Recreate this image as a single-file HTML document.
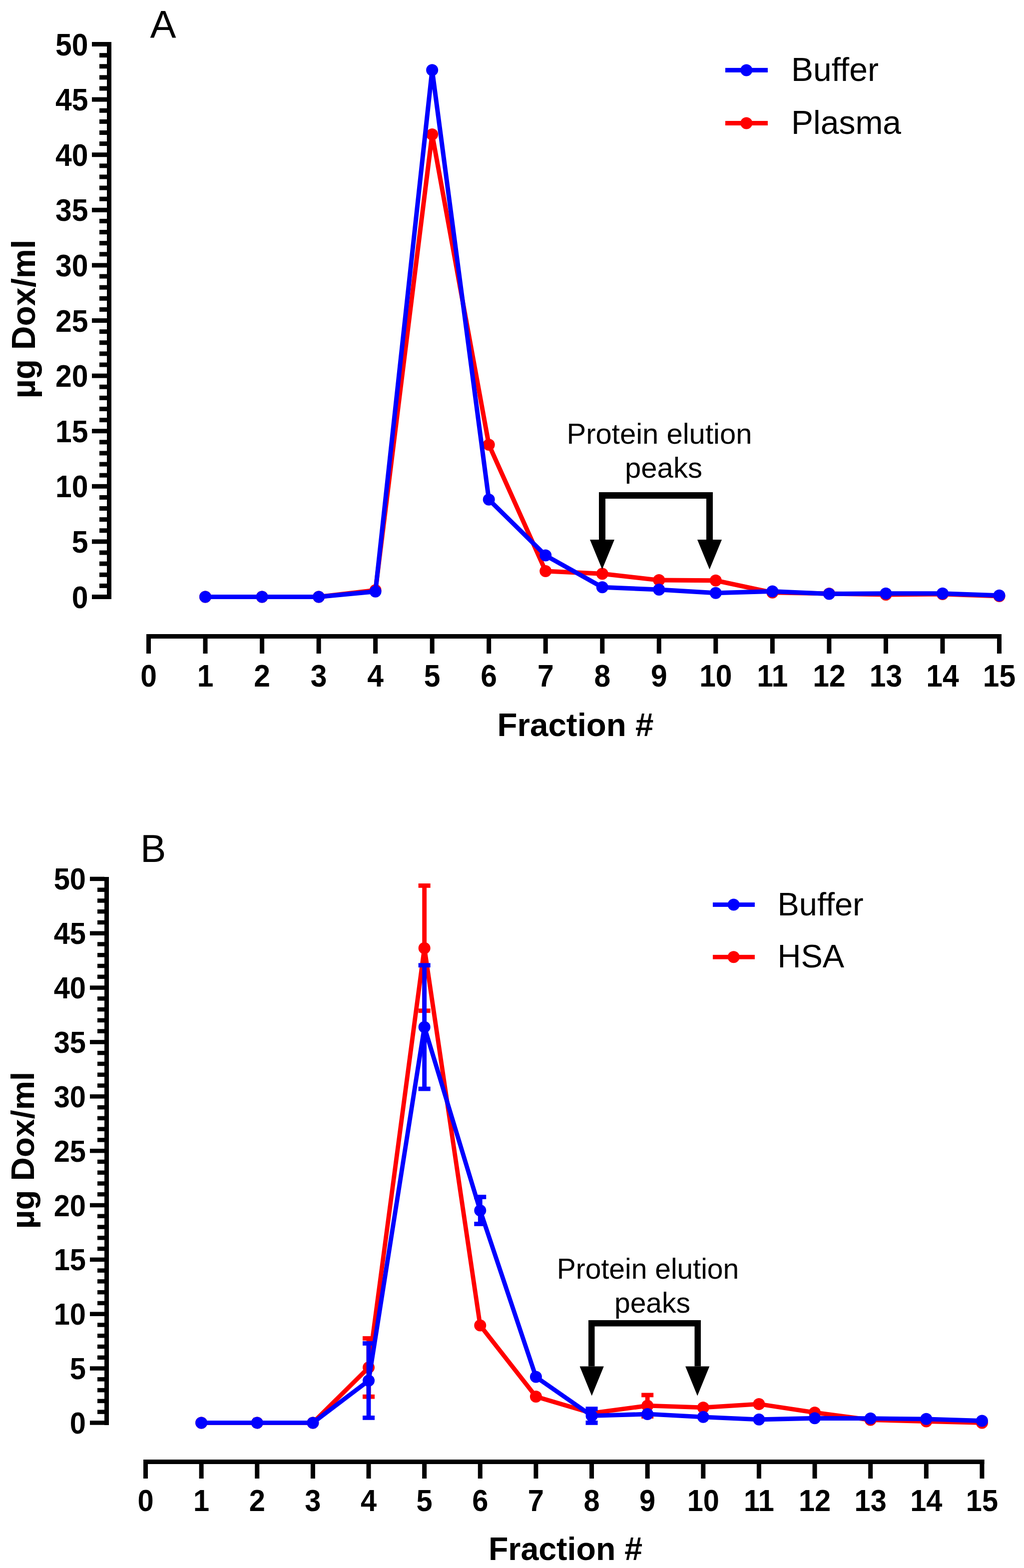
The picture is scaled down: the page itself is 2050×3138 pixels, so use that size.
<!DOCTYPE html>
<html><head><meta charset="utf-8"><title>Figure</title>
<style>
html,body{margin:0;padding:0;background:#fff;}
body{width:2050px;height:3138px;overflow:hidden;}
svg{display:block;}
.b{font-family:"Liberation Sans",Arial,sans-serif;font-weight:bold;fill:#000;}
.r{font-family:"Liberation Sans",Arial,sans-serif;font-weight:normal;fill:#000;}
</style></head><body>
<svg width="2050" height="3138" viewBox="0 0 2050 3138">
<rect x="0" y="0" width="2050" height="3138" fill="#fff"/>
<rect x="214" y="84" width="9" height="1115" fill="#000"/>
<rect x="184.00" y="1190.00" width="30.00" height="9" fill="#000"/>
<text transform="translate(176.50,1216.50) scale(0.98,1.06)" text-anchor="end" class="b" font-size="60">0</text>
<rect x="199.00" y="1167.88" width="15.00" height="9" fill="#000"/>
<rect x="199.00" y="1145.76" width="15.00" height="9" fill="#000"/>
<rect x="199.00" y="1123.64" width="15.00" height="9" fill="#000"/>
<rect x="199.00" y="1101.52" width="15.00" height="9" fill="#000"/>
<rect x="184.00" y="1079.40" width="30.00" height="9" fill="#000"/>
<text transform="translate(176.50,1105.90) scale(0.98,1.06)" text-anchor="end" class="b" font-size="60">5</text>
<rect x="199.00" y="1057.28" width="15.00" height="9" fill="#000"/>
<rect x="199.00" y="1035.16" width="15.00" height="9" fill="#000"/>
<rect x="199.00" y="1013.04" width="15.00" height="9" fill="#000"/>
<rect x="199.00" y="990.92" width="15.00" height="9" fill="#000"/>
<rect x="184.00" y="968.80" width="30.00" height="9" fill="#000"/>
<text transform="translate(176.50,995.30) scale(0.98,1.06)" text-anchor="end" class="b" font-size="60">10</text>
<rect x="199.00" y="946.68" width="15.00" height="9" fill="#000"/>
<rect x="199.00" y="924.56" width="15.00" height="9" fill="#000"/>
<rect x="199.00" y="902.44" width="15.00" height="9" fill="#000"/>
<rect x="199.00" y="880.32" width="15.00" height="9" fill="#000"/>
<rect x="184.00" y="858.20" width="30.00" height="9" fill="#000"/>
<text transform="translate(176.50,884.70) scale(0.98,1.06)" text-anchor="end" class="b" font-size="60">15</text>
<rect x="199.00" y="836.08" width="15.00" height="9" fill="#000"/>
<rect x="199.00" y="813.96" width="15.00" height="9" fill="#000"/>
<rect x="199.00" y="791.84" width="15.00" height="9" fill="#000"/>
<rect x="199.00" y="769.72" width="15.00" height="9" fill="#000"/>
<rect x="184.00" y="747.60" width="30.00" height="9" fill="#000"/>
<text transform="translate(176.50,774.10) scale(0.98,1.06)" text-anchor="end" class="b" font-size="60">20</text>
<rect x="199.00" y="725.48" width="15.00" height="9" fill="#000"/>
<rect x="199.00" y="703.36" width="15.00" height="9" fill="#000"/>
<rect x="199.00" y="681.24" width="15.00" height="9" fill="#000"/>
<rect x="199.00" y="659.12" width="15.00" height="9" fill="#000"/>
<rect x="184.00" y="637.00" width="30.00" height="9" fill="#000"/>
<text transform="translate(176.50,663.50) scale(0.98,1.06)" text-anchor="end" class="b" font-size="60">25</text>
<rect x="199.00" y="614.88" width="15.00" height="9" fill="#000"/>
<rect x="199.00" y="592.76" width="15.00" height="9" fill="#000"/>
<rect x="199.00" y="570.64" width="15.00" height="9" fill="#000"/>
<rect x="199.00" y="548.52" width="15.00" height="9" fill="#000"/>
<rect x="184.00" y="526.40" width="30.00" height="9" fill="#000"/>
<text transform="translate(176.50,552.90) scale(0.98,1.06)" text-anchor="end" class="b" font-size="60">30</text>
<rect x="199.00" y="504.28" width="15.00" height="9" fill="#000"/>
<rect x="199.00" y="482.16" width="15.00" height="9" fill="#000"/>
<rect x="199.00" y="460.04" width="15.00" height="9" fill="#000"/>
<rect x="199.00" y="437.92" width="15.00" height="9" fill="#000"/>
<rect x="184.00" y="415.80" width="30.00" height="9" fill="#000"/>
<text transform="translate(176.50,442.30) scale(0.98,1.06)" text-anchor="end" class="b" font-size="60">35</text>
<rect x="199.00" y="393.68" width="15.00" height="9" fill="#000"/>
<rect x="199.00" y="371.56" width="15.00" height="9" fill="#000"/>
<rect x="199.00" y="349.44" width="15.00" height="9" fill="#000"/>
<rect x="199.00" y="327.32" width="15.00" height="9" fill="#000"/>
<rect x="184.00" y="305.20" width="30.00" height="9" fill="#000"/>
<text transform="translate(176.50,331.70) scale(0.98,1.06)" text-anchor="end" class="b" font-size="60">40</text>
<rect x="199.00" y="283.08" width="15.00" height="9" fill="#000"/>
<rect x="199.00" y="260.96" width="15.00" height="9" fill="#000"/>
<rect x="199.00" y="238.84" width="15.00" height="9" fill="#000"/>
<rect x="199.00" y="216.72" width="15.00" height="9" fill="#000"/>
<rect x="184.00" y="194.60" width="30.00" height="9" fill="#000"/>
<text transform="translate(176.50,221.10) scale(0.98,1.06)" text-anchor="end" class="b" font-size="60">45</text>
<rect x="199.00" y="172.48" width="15.00" height="9" fill="#000"/>
<rect x="199.00" y="150.36" width="15.00" height="9" fill="#000"/>
<rect x="199.00" y="128.24" width="15.00" height="9" fill="#000"/>
<rect x="199.00" y="106.12" width="15.00" height="9" fill="#000"/>
<rect x="184.00" y="84.00" width="30.00" height="9" fill="#000"/>
<text transform="translate(176.50,110.50) scale(0.98,1.06)" text-anchor="end" class="b" font-size="60">50</text>
<rect x="293.00" y="1269" width="1712.00" height="9" fill="#000"/>
<rect x="293.00" y="1269" width="9" height="39" fill="#000"/>
<text transform="translate(297.50,1374.00) scale(0.98,1.06)" text-anchor="middle" class="b" font-size="60">0</text>
<rect x="406.53" y="1269" width="9" height="39" fill="#000"/>
<text transform="translate(411.03,1374.00) scale(0.98,1.06)" text-anchor="middle" class="b" font-size="60">1</text>
<rect x="520.07" y="1269" width="9" height="39" fill="#000"/>
<text transform="translate(524.57,1374.00) scale(0.98,1.06)" text-anchor="middle" class="b" font-size="60">2</text>
<rect x="633.60" y="1269" width="9" height="39" fill="#000"/>
<text transform="translate(638.10,1374.00) scale(0.98,1.06)" text-anchor="middle" class="b" font-size="60">3</text>
<rect x="747.13" y="1269" width="9" height="39" fill="#000"/>
<text transform="translate(751.63,1374.00) scale(0.98,1.06)" text-anchor="middle" class="b" font-size="60">4</text>
<rect x="860.66" y="1269" width="9" height="39" fill="#000"/>
<text transform="translate(865.16,1374.00) scale(0.98,1.06)" text-anchor="middle" class="b" font-size="60">5</text>
<rect x="974.20" y="1269" width="9" height="39" fill="#000"/>
<text transform="translate(978.70,1374.00) scale(0.98,1.06)" text-anchor="middle" class="b" font-size="60">6</text>
<rect x="1087.73" y="1269" width="9" height="39" fill="#000"/>
<text transform="translate(1092.23,1374.00) scale(0.98,1.06)" text-anchor="middle" class="b" font-size="60">7</text>
<rect x="1201.26" y="1269" width="9" height="39" fill="#000"/>
<text transform="translate(1205.76,1374.00) scale(0.98,1.06)" text-anchor="middle" class="b" font-size="60">8</text>
<rect x="1314.80" y="1269" width="9" height="39" fill="#000"/>
<text transform="translate(1319.30,1374.00) scale(0.98,1.06)" text-anchor="middle" class="b" font-size="60">9</text>
<rect x="1428.33" y="1269" width="9" height="39" fill="#000"/>
<text transform="translate(1432.83,1374.00) scale(0.98,1.06)" text-anchor="middle" class="b" font-size="60">10</text>
<rect x="1541.86" y="1269" width="9" height="39" fill="#000"/>
<text transform="translate(1546.36,1374.00) scale(0.98,1.06)" text-anchor="middle" class="b" font-size="60">11</text>
<rect x="1655.40" y="1269" width="9" height="39" fill="#000"/>
<text transform="translate(1659.90,1374.00) scale(0.98,1.06)" text-anchor="middle" class="b" font-size="60">12</text>
<rect x="1768.93" y="1269" width="9" height="39" fill="#000"/>
<text transform="translate(1773.43,1374.00) scale(0.98,1.06)" text-anchor="middle" class="b" font-size="60">13</text>
<rect x="1882.46" y="1269" width="9" height="39" fill="#000"/>
<text transform="translate(1886.96,1374.00) scale(0.98,1.06)" text-anchor="middle" class="b" font-size="60">14</text>
<rect x="1996.00" y="1269" width="9" height="39" fill="#000"/>
<text transform="translate(2000.50,1374.00) scale(0.98,1.06)" text-anchor="middle" class="b" font-size="60">15</text>
<text x="1152.00" y="1472.70" text-anchor="middle" class="b" font-size="65.5">Fraction #</text>
<text transform="translate(69.90,638.50) rotate(-90)" text-anchor="middle" class="b" font-size="66.2">µg Dox/ml</text>
<text x="300.5" y="75.9" class="r" font-size="78">A</text>
<path d="M411.03,1194.50 L524.57,1194.50 L638.10,1194.50 L751.63,1181.23 L865.16,269.00 L978.70,889.91 L1092.23,1142.96 L1205.76,1148.27 L1319.30,1161.10 L1432.83,1161.76 L1546.36,1185.87 L1659.90,1188.09 L1773.43,1190.08 L1886.96,1188.97 L2000.50,1192.95" fill="none" stroke="#ff0000" stroke-width="9" stroke-linejoin="round"/>
<circle cx="411.03" cy="1194.50" r="12" fill="#ff0000"/>
<circle cx="524.57" cy="1194.50" r="12" fill="#ff0000"/>
<circle cx="638.10" cy="1194.50" r="12" fill="#ff0000"/>
<circle cx="751.63" cy="1181.23" r="12" fill="#ff0000"/>
<circle cx="865.16" cy="269.00" r="12" fill="#ff0000"/>
<circle cx="978.70" cy="889.91" r="12" fill="#ff0000"/>
<circle cx="1092.23" cy="1142.96" r="12" fill="#ff0000"/>
<circle cx="1205.76" cy="1148.27" r="12" fill="#ff0000"/>
<circle cx="1319.30" cy="1161.10" r="12" fill="#ff0000"/>
<circle cx="1432.83" cy="1161.76" r="12" fill="#ff0000"/>
<circle cx="1546.36" cy="1185.87" r="12" fill="#ff0000"/>
<circle cx="1659.90" cy="1188.09" r="12" fill="#ff0000"/>
<circle cx="1773.43" cy="1190.08" r="12" fill="#ff0000"/>
<circle cx="1886.96" cy="1188.97" r="12" fill="#ff0000"/>
<circle cx="2000.50" cy="1192.95" r="12" fill="#ff0000"/>
<path d="M411.03,1194.50 L524.57,1194.50 L638.10,1194.50 L751.63,1183.66 L865.16,140.26 L978.70,999.84 L1092.23,1111.55 L1205.76,1175.26 L1319.30,1179.90 L1432.83,1186.76 L1546.36,1183.44 L1659.90,1188.53 L1773.43,1187.86 L1886.96,1187.86 L2000.50,1191.85" fill="none" stroke="#0000ff" stroke-width="9" stroke-linejoin="round"/>
<circle cx="411.03" cy="1194.50" r="12" fill="#0000ff"/>
<circle cx="524.57" cy="1194.50" r="12" fill="#0000ff"/>
<circle cx="638.10" cy="1194.50" r="12" fill="#0000ff"/>
<circle cx="751.63" cy="1183.66" r="12" fill="#0000ff"/>
<circle cx="865.16" cy="140.26" r="12" fill="#0000ff"/>
<circle cx="978.70" cy="999.84" r="12" fill="#0000ff"/>
<circle cx="1092.23" cy="1111.55" r="12" fill="#0000ff"/>
<circle cx="1205.76" cy="1175.26" r="12" fill="#0000ff"/>
<circle cx="1319.30" cy="1179.90" r="12" fill="#0000ff"/>
<circle cx="1432.83" cy="1186.76" r="12" fill="#0000ff"/>
<circle cx="1546.36" cy="1183.44" r="12" fill="#0000ff"/>
<circle cx="1659.90" cy="1188.53" r="12" fill="#0000ff"/>
<circle cx="1773.43" cy="1187.86" r="12" fill="#0000ff"/>
<circle cx="1886.96" cy="1187.86" r="12" fill="#0000ff"/>
<circle cx="2000.50" cy="1191.85" r="12" fill="#0000ff"/>
<text x="1320" y="888" text-anchor="middle" class="r" font-size="58">Protein elution</text>
<text x="1328.5" y="956" text-anchor="middle" class="r" font-size="58">peaks</text>
<path d="M1199,1080 V985 H1427 V1080 H1414 V998 H1212 V1080 Z" fill="#000"/>
<path d="M1181.00,1080 H1230.00 L1205.50,1139.6 Z" fill="#000"/>
<path d="M1396.00,1080 H1445.00 L1420.50,1139.6 Z" fill="#000"/>
<rect x="1452" y="135.90" width="85" height="9" fill="#0000ff"/>
<circle cx="1494.3" cy="140.4" r="12" fill="#0000ff"/>
<text x="1584" y="161.5" class="r" font-size="66">Buffer</text>
<rect x="1452" y="242.00" width="85" height="9" fill="#ff0000"/>
<circle cx="1494.3" cy="246.5" r="12" fill="#ff0000"/>
<text x="1584" y="267.5" class="r" font-size="66">Plasma</text>
<rect x="209" y="1755" width="9" height="1097" fill="#000"/>
<rect x="180.00" y="2843.15" width="29.00" height="8.5" fill="#000"/>
<text transform="translate(172.00,2868.90) scale(0.98,1.04)" text-anchor="end" class="b" font-size="59">0</text>
<rect x="195.00" y="2821.38" width="14.00" height="8.5" fill="#000"/>
<rect x="195.00" y="2799.61" width="14.00" height="8.5" fill="#000"/>
<rect x="195.00" y="2777.84" width="14.00" height="8.5" fill="#000"/>
<rect x="195.00" y="2756.07" width="14.00" height="8.5" fill="#000"/>
<rect x="180.00" y="2734.30" width="29.00" height="8.5" fill="#000"/>
<text transform="translate(172.00,2760.05) scale(0.98,1.04)" text-anchor="end" class="b" font-size="59">5</text>
<rect x="195.00" y="2712.53" width="14.00" height="8.5" fill="#000"/>
<rect x="195.00" y="2690.76" width="14.00" height="8.5" fill="#000"/>
<rect x="195.00" y="2668.99" width="14.00" height="8.5" fill="#000"/>
<rect x="195.00" y="2647.22" width="14.00" height="8.5" fill="#000"/>
<rect x="180.00" y="2625.45" width="29.00" height="8.5" fill="#000"/>
<text transform="translate(172.00,2651.20) scale(0.98,1.04)" text-anchor="end" class="b" font-size="59">10</text>
<rect x="195.00" y="2603.68" width="14.00" height="8.5" fill="#000"/>
<rect x="195.00" y="2581.91" width="14.00" height="8.5" fill="#000"/>
<rect x="195.00" y="2560.14" width="14.00" height="8.5" fill="#000"/>
<rect x="195.00" y="2538.37" width="14.00" height="8.5" fill="#000"/>
<rect x="180.00" y="2516.60" width="29.00" height="8.5" fill="#000"/>
<text transform="translate(172.00,2542.35) scale(0.98,1.04)" text-anchor="end" class="b" font-size="59">15</text>
<rect x="195.00" y="2494.83" width="14.00" height="8.5" fill="#000"/>
<rect x="195.00" y="2473.06" width="14.00" height="8.5" fill="#000"/>
<rect x="195.00" y="2451.29" width="14.00" height="8.5" fill="#000"/>
<rect x="195.00" y="2429.52" width="14.00" height="8.5" fill="#000"/>
<rect x="180.00" y="2407.75" width="29.00" height="8.5" fill="#000"/>
<text transform="translate(172.00,2433.50) scale(0.98,1.04)" text-anchor="end" class="b" font-size="59">20</text>
<rect x="195.00" y="2385.98" width="14.00" height="8.5" fill="#000"/>
<rect x="195.00" y="2364.21" width="14.00" height="8.5" fill="#000"/>
<rect x="195.00" y="2342.44" width="14.00" height="8.5" fill="#000"/>
<rect x="195.00" y="2320.67" width="14.00" height="8.5" fill="#000"/>
<rect x="180.00" y="2298.90" width="29.00" height="8.5" fill="#000"/>
<text transform="translate(172.00,2324.65) scale(0.98,1.04)" text-anchor="end" class="b" font-size="59">25</text>
<rect x="195.00" y="2277.13" width="14.00" height="8.5" fill="#000"/>
<rect x="195.00" y="2255.36" width="14.00" height="8.5" fill="#000"/>
<rect x="195.00" y="2233.59" width="14.00" height="8.5" fill="#000"/>
<rect x="195.00" y="2211.82" width="14.00" height="8.5" fill="#000"/>
<rect x="180.00" y="2190.05" width="29.00" height="8.5" fill="#000"/>
<text transform="translate(172.00,2215.80) scale(0.98,1.04)" text-anchor="end" class="b" font-size="59">30</text>
<rect x="195.00" y="2168.28" width="14.00" height="8.5" fill="#000"/>
<rect x="195.00" y="2146.51" width="14.00" height="8.5" fill="#000"/>
<rect x="195.00" y="2124.74" width="14.00" height="8.5" fill="#000"/>
<rect x="195.00" y="2102.97" width="14.00" height="8.5" fill="#000"/>
<rect x="180.00" y="2081.20" width="29.00" height="8.5" fill="#000"/>
<text transform="translate(172.00,2106.95) scale(0.98,1.04)" text-anchor="end" class="b" font-size="59">35</text>
<rect x="195.00" y="2059.43" width="14.00" height="8.5" fill="#000"/>
<rect x="195.00" y="2037.66" width="14.00" height="8.5" fill="#000"/>
<rect x="195.00" y="2015.89" width="14.00" height="8.5" fill="#000"/>
<rect x="195.00" y="1994.12" width="14.00" height="8.5" fill="#000"/>
<rect x="180.00" y="1972.35" width="29.00" height="8.5" fill="#000"/>
<text transform="translate(172.00,1998.10) scale(0.98,1.04)" text-anchor="end" class="b" font-size="59">40</text>
<rect x="195.00" y="1950.58" width="14.00" height="8.5" fill="#000"/>
<rect x="195.00" y="1928.81" width="14.00" height="8.5" fill="#000"/>
<rect x="195.00" y="1907.04" width="14.00" height="8.5" fill="#000"/>
<rect x="195.00" y="1885.27" width="14.00" height="8.5" fill="#000"/>
<rect x="180.00" y="1863.50" width="29.00" height="8.5" fill="#000"/>
<text transform="translate(172.00,1889.25) scale(0.98,1.04)" text-anchor="end" class="b" font-size="59">45</text>
<rect x="195.00" y="1841.73" width="14.00" height="8.5" fill="#000"/>
<rect x="195.00" y="1819.96" width="14.00" height="8.5" fill="#000"/>
<rect x="195.00" y="1798.19" width="14.00" height="8.5" fill="#000"/>
<rect x="195.00" y="1776.42" width="14.00" height="8.5" fill="#000"/>
<rect x="180.00" y="1754.65" width="29.00" height="8.5" fill="#000"/>
<text transform="translate(172.00,1780.40) scale(0.98,1.04)" text-anchor="end" class="b" font-size="59">50</text>
<rect x="287.00" y="2921" width="1683.45" height="9" fill="#000"/>
<rect x="287.00" y="2921" width="9" height="38" fill="#000"/>
<text transform="translate(291.50,3024.40) scale(0.98,1.04)" text-anchor="middle" class="b" font-size="59">0</text>
<rect x="398.63" y="2921" width="9" height="38" fill="#000"/>
<text transform="translate(403.13,3024.40) scale(0.98,1.04)" text-anchor="middle" class="b" font-size="59">1</text>
<rect x="510.26" y="2921" width="9" height="38" fill="#000"/>
<text transform="translate(514.76,3024.40) scale(0.98,1.04)" text-anchor="middle" class="b" font-size="59">2</text>
<rect x="621.89" y="2921" width="9" height="38" fill="#000"/>
<text transform="translate(626.39,3024.40) scale(0.98,1.04)" text-anchor="middle" class="b" font-size="59">3</text>
<rect x="733.52" y="2921" width="9" height="38" fill="#000"/>
<text transform="translate(738.02,3024.40) scale(0.98,1.04)" text-anchor="middle" class="b" font-size="59">4</text>
<rect x="845.15" y="2921" width="9" height="38" fill="#000"/>
<text transform="translate(849.65,3024.40) scale(0.98,1.04)" text-anchor="middle" class="b" font-size="59">5</text>
<rect x="956.78" y="2921" width="9" height="38" fill="#000"/>
<text transform="translate(961.28,3024.40) scale(0.98,1.04)" text-anchor="middle" class="b" font-size="59">6</text>
<rect x="1068.41" y="2921" width="9" height="38" fill="#000"/>
<text transform="translate(1072.91,3024.40) scale(0.98,1.04)" text-anchor="middle" class="b" font-size="59">7</text>
<rect x="1180.04" y="2921" width="9" height="38" fill="#000"/>
<text transform="translate(1184.54,3024.40) scale(0.98,1.04)" text-anchor="middle" class="b" font-size="59">8</text>
<rect x="1291.67" y="2921" width="9" height="38" fill="#000"/>
<text transform="translate(1296.17,3024.40) scale(0.98,1.04)" text-anchor="middle" class="b" font-size="59">9</text>
<rect x="1403.30" y="2921" width="9" height="38" fill="#000"/>
<text transform="translate(1407.80,3024.40) scale(0.98,1.04)" text-anchor="middle" class="b" font-size="59">10</text>
<rect x="1514.93" y="2921" width="9" height="38" fill="#000"/>
<text transform="translate(1519.43,3024.40) scale(0.98,1.04)" text-anchor="middle" class="b" font-size="59">11</text>
<rect x="1626.56" y="2921" width="9" height="38" fill="#000"/>
<text transform="translate(1631.06,3024.40) scale(0.98,1.04)" text-anchor="middle" class="b" font-size="59">12</text>
<rect x="1738.19" y="2921" width="9" height="38" fill="#000"/>
<text transform="translate(1742.69,3024.40) scale(0.98,1.04)" text-anchor="middle" class="b" font-size="59">13</text>
<rect x="1849.82" y="2921" width="9" height="38" fill="#000"/>
<text transform="translate(1854.32,3024.40) scale(0.98,1.04)" text-anchor="middle" class="b" font-size="59">14</text>
<rect x="1961.45" y="2921" width="9" height="38" fill="#000"/>
<text transform="translate(1965.95,3024.40) scale(0.98,1.04)" text-anchor="middle" class="b" font-size="59">15</text>
<text x="1132.00" y="3121.70" text-anchor="middle" class="b" font-size="64.5">Fraction #</text>
<text transform="translate(67.90,2302.00) rotate(-90)" text-anchor="middle" class="b" font-size="65.5">µg Dox/ml</text>
<text x="281" y="1724.8" class="r" font-size="77">B</text>
<rect x="733.62" y="2678.46" width="8.8" height="116.69" fill="#ff0000"/>
<rect x="726.02" y="2674.06" width="24" height="8.8" fill="#ff0000"/>
<rect x="726.02" y="2790.75" width="24" height="8.8" fill="#ff0000"/>
<rect x="845.25" y="1772.40" width="8.8" height="250.36" fill="#ff0000"/>
<rect x="837.65" y="1768.00" width="24" height="8.8" fill="#ff0000"/>
<rect x="837.65" y="2018.35" width="24" height="8.8" fill="#ff0000"/>
<rect x="1291.77" y="2791.89" width="8.8" height="42.67" fill="#ff0000"/>
<rect x="1284.17" y="2787.49" width="24" height="8.8" fill="#ff0000"/>
<rect x="1284.17" y="2830.16" width="24" height="8.8" fill="#ff0000"/>
<path d="M403.13,2847.40 L514.76,2847.40 L626.39,2847.40 L738.02,2736.81 L849.65,1897.57 L961.28,2652.56 L1072.91,2794.93 L1184.54,2828.02 L1296.17,2813.22 L1407.80,2816.92 L1519.43,2809.96 L1631.06,2826.94 L1742.69,2841.52 L1854.32,2844.57 L1965.95,2847.40" fill="none" stroke="#ff0000" stroke-width="8.8" stroke-linejoin="round"/>
<circle cx="403.13" cy="2847.40" r="12" fill="#ff0000"/>
<circle cx="514.76" cy="2847.40" r="12" fill="#ff0000"/>
<circle cx="626.39" cy="2847.40" r="12" fill="#ff0000"/>
<circle cx="738.02" cy="2736.81" r="12" fill="#ff0000"/>
<circle cx="849.65" cy="1897.57" r="12" fill="#ff0000"/>
<circle cx="961.28" cy="2652.56" r="12" fill="#ff0000"/>
<circle cx="1072.91" cy="2794.93" r="12" fill="#ff0000"/>
<circle cx="1184.54" cy="2828.02" r="12" fill="#ff0000"/>
<circle cx="1296.17" cy="2813.22" r="12" fill="#ff0000"/>
<circle cx="1407.80" cy="2816.92" r="12" fill="#ff0000"/>
<circle cx="1519.43" cy="2809.96" r="12" fill="#ff0000"/>
<circle cx="1631.06" cy="2826.94" r="12" fill="#ff0000"/>
<circle cx="1742.69" cy="2841.52" r="12" fill="#ff0000"/>
<circle cx="1854.32" cy="2844.57" r="12" fill="#ff0000"/>
<circle cx="1965.95" cy="2847.40" r="12" fill="#ff0000"/>
<rect x="733.62" y="2688.48" width="8.8" height="148.91" fill="#0000ff"/>
<rect x="726.02" y="2684.08" width="24" height="8.8" fill="#0000ff"/>
<rect x="726.02" y="2832.99" width="24" height="8.8" fill="#0000ff"/>
<rect x="845.25" y="1931.75" width="8.8" height="247.31" fill="#0000ff"/>
<rect x="837.65" y="1927.35" width="24" height="8.8" fill="#0000ff"/>
<rect x="837.65" y="2174.66" width="24" height="8.8" fill="#0000ff"/>
<rect x="956.88" y="2395.45" width="8.8" height="53.99" fill="#0000ff"/>
<rect x="949.28" y="2391.05" width="24" height="8.8" fill="#0000ff"/>
<rect x="949.28" y="2445.04" width="24" height="8.8" fill="#0000ff"/>
<rect x="1180.14" y="2819.53" width="8.8" height="27.87" fill="#0000ff"/>
<rect x="1172.54" y="2815.13" width="24" height="8.8" fill="#0000ff"/>
<rect x="1172.54" y="2843.00" width="24" height="8.8" fill="#0000ff"/>
<path d="M403.13,2847.40 L514.76,2847.40 L626.39,2847.40 L738.02,2762.93 L849.65,2055.41 L961.28,2422.45 L1072.91,2755.53 L1184.54,2833.47 L1296.17,2829.98 L1407.80,2835.86 L1519.43,2840.87 L1631.06,2838.26 L1742.69,2838.69 L1854.32,2839.78 L1965.95,2843.48" fill="none" stroke="#0000ff" stroke-width="8.8" stroke-linejoin="round"/>
<circle cx="403.13" cy="2847.40" r="12" fill="#0000ff"/>
<circle cx="514.76" cy="2847.40" r="12" fill="#0000ff"/>
<circle cx="626.39" cy="2847.40" r="12" fill="#0000ff"/>
<circle cx="738.02" cy="2762.93" r="12" fill="#0000ff"/>
<circle cx="849.65" cy="2055.41" r="12" fill="#0000ff"/>
<circle cx="961.28" cy="2422.45" r="12" fill="#0000ff"/>
<circle cx="1072.91" cy="2755.53" r="12" fill="#0000ff"/>
<circle cx="1184.54" cy="2833.47" r="12" fill="#0000ff"/>
<circle cx="1296.17" cy="2829.98" r="12" fill="#0000ff"/>
<circle cx="1407.80" cy="2835.86" r="12" fill="#0000ff"/>
<circle cx="1519.43" cy="2840.87" r="12" fill="#0000ff"/>
<circle cx="1631.06" cy="2838.26" r="12" fill="#0000ff"/>
<circle cx="1742.69" cy="2838.69" r="12" fill="#0000ff"/>
<circle cx="1854.32" cy="2839.78" r="12" fill="#0000ff"/>
<circle cx="1965.95" cy="2843.48" r="12" fill="#0000ff"/>
<text x="1297" y="2558.7" text-anchor="middle" class="r" font-size="57">Protein elution</text>
<text x="1306" y="2626.6" text-anchor="middle" class="r" font-size="57">peaks</text>
<path d="M1178,2734.6 V2642 H1403 V2734.6 H1390.5 V2654.5 H1190.5 V2734.6 Z" fill="#000"/>
<path d="M1160.60,2734.6 H1208.80 L1184.70,2793.6 Z" fill="#000"/>
<path d="M1372.10,2734.6 H1420.30 L1396.20,2793.6 Z" fill="#000"/>
<rect x="1427" y="1806.10" width="84" height="8.8" fill="#0000ff"/>
<circle cx="1468.7" cy="1810.5" r="12" fill="#0000ff"/>
<text x="1556.5" y="1832" class="r" font-size="65">Buffer</text>
<rect x="1427" y="1910.90" width="84" height="8.8" fill="#ff0000"/>
<circle cx="1468.7" cy="1915.3" r="12" fill="#ff0000"/>
<text x="1556.5" y="1936.2" class="r" font-size="65">HSA</text>
</svg>
</body></html>
